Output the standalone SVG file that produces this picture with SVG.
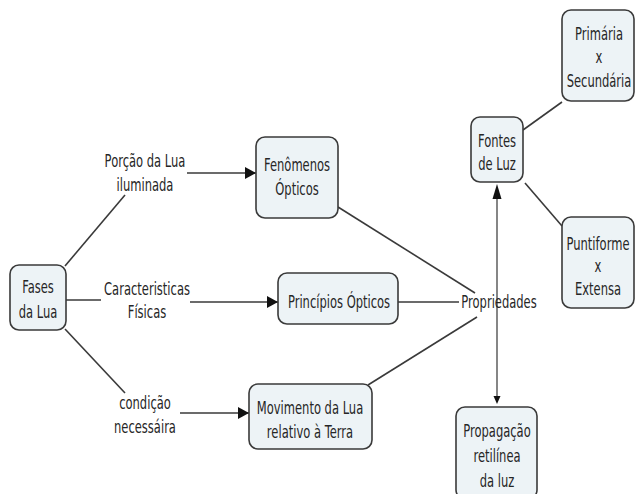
<svg xmlns="http://www.w3.org/2000/svg" width="635" height="494" viewBox="0 0 635 494">
<defs>
<style>
.box{fill:#edf3f6;stroke:#3a3a3a;stroke-width:1.6}
.t{font-family:"DejaVu Sans",Verdana,sans-serif;font-size:18px;fill:#262626;text-anchor:middle}
.c{stroke:#3a3a3a;stroke-width:1.6;fill:none}
.v{stroke:#222;stroke-width:1.1;fill:none}
</style>
<marker id="ah" viewBox="0 0 11 12" refX="11" refY="6" markerWidth="11" markerHeight="12" markerUnits="userSpaceOnUse" orient="auto">
<path d="M0,0 L11,6 L0,12 z" fill="#111"/>
</marker>
</defs>
<rect width="635" height="494" fill="#fff"/>
<g id="connectors">
<line class="c" x1="65" y1="266" x2="125" y2="195"/>
<line class="c" x1="66" y1="300" x2="101" y2="300"/>
<line class="c" x1="65" y1="329" x2="125" y2="393"/>
<line class="c" x1="187" y1="173" x2="256" y2="173" marker-end="url(#ah)"/>
<line class="c" x1="190" y1="302" x2="278" y2="302" marker-end="url(#ah)"/>
<line class="c" x1="180" y1="413" x2="249" y2="413" marker-end="url(#ah)"/>
<line class="c" x1="398" y1="302" x2="459" y2="302"/>
<line class="c" x1="338" y1="207" x2="475" y2="293"/>
<line class="c" x1="368" y1="385" x2="477" y2="317"/>
<line class="c" x1="523" y1="130" x2="562" y2="102"/>
<line class="c" x1="525" y1="183" x2="562" y2="226"/>
<line class="v" x1="497" y1="196" x2="497" y2="397"/>
<path d="M497,184 L501.5,199 L492.5,199 z" fill="#111"/>
<path d="M497,404 L493.5,396 L500.5,396 z" fill="#111"/>
</g>
<g id="fases">
<rect class="box" x="10" y="265" width="56" height="65" rx="9"/>
<text class="t" transform="translate(38,293) scale(0.64,1)"><tspan x="0">Fases</tspan><tspan x="0" dy="25">da Lua</tspan></text>
</g>
<g id="label-porcao">
<text class="t" transform="translate(145,167) scale(0.64,1)"><tspan x="0">Porção da Lua</tspan><tspan x="0" dy="24">iluminada</tspan></text>
</g>
<g id="label-caracteristicas">
<text class="t" transform="translate(147,295) scale(0.64,1)"><tspan x="0">Caracteristicas</tspan><tspan x="0" dy="23">Físicas</tspan></text>
</g>
<g id="label-condicao">
<text class="t" transform="translate(145,409) scale(0.64,1)"><tspan x="0">condição</tspan><tspan x="0" dy="24">necessáira</tspan></text>
</g>
<g id="fenomenos">
<rect class="box" x="256" y="137" width="82" height="81" rx="9"/>
<text class="t" transform="translate(297,171) scale(0.64,1)"><tspan x="0">Fenômenos</tspan><tspan x="0" dy="24">Ópticos</tspan></text>
</g>
<g id="principios">
<rect class="box" x="278" y="273" width="120" height="51" rx="9"/>
<text class="t" transform="translate(339,308) scale(0.64,1)">Princípios Ópticos</text>
</g>
<g id="movimento">
<rect class="box" x="249" y="384" width="123" height="65" rx="9"/>
<text class="t" transform="translate(310,414) scale(0.64,1)"><tspan x="0">Movimento da Lua</tspan><tspan x="0" dy="24">relativo à Terra</tspan></text>
</g>
<g id="propriedades">
<text class="t" transform="translate(499,308) scale(0.64,1)">Propriedades</text>
</g>
<g id="fontes">
<rect class="box" x="471" y="117" width="52" height="65" rx="9"/>
<text class="t" transform="translate(497,147) scale(0.64,1)"><tspan x="0">Fontes</tspan><tspan x="0" dy="23">de Luz</tspan></text>
</g>
<g id="primaria">
<rect class="box" x="562" y="10" width="72" height="91" rx="9"/>
<text class="t" transform="translate(599,40) scale(0.64,1)"><tspan x="0">Primária</tspan><tspan x="0" dy="23">x</tspan><tspan x="0" dy="24">Secundária</tspan></text>
</g>
<g id="puntiforme">
<rect class="box" x="562" y="217" width="72" height="91" rx="9"/>
<text class="t" transform="translate(598,250) scale(0.64,1)"><tspan x="0">Puntiforme</tspan><tspan x="0" dy="22">x</tspan><tspan x="0" dy="23">Extensa</tspan></text>
</g>
<g id="propagacao">
<rect class="box" x="456" y="407" width="81" height="92" rx="9"/>
<text class="t" transform="translate(497,437) scale(0.64,1)"><tspan x="0">Propagação</tspan><tspan x="0" dy="25">retilínea</tspan><tspan x="0" dy="25">da luz</tspan></text>
</g>
</svg>
